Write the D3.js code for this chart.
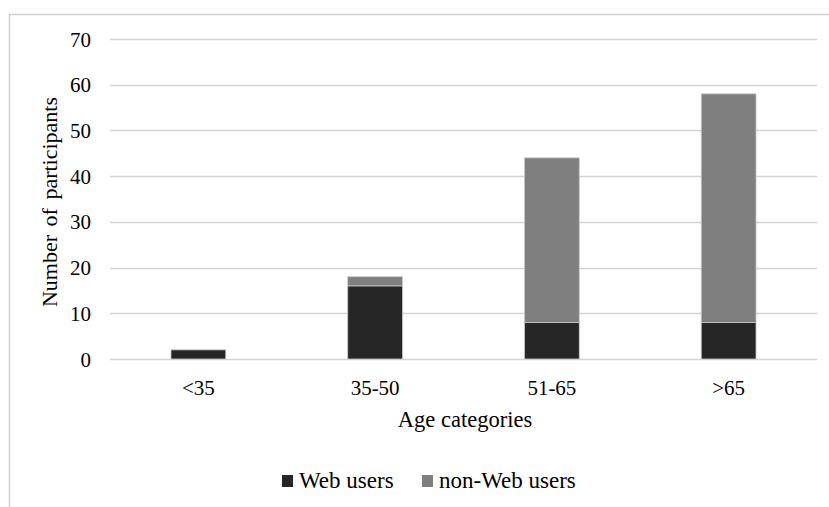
<!DOCTYPE html>
<html><head><meta charset="utf-8">
<script src="https://cdn.jsdelivr.net/npm/d3@7"></script>
<style>body{margin:0;background:#fff}svg{display:block}svg text{font-family:"Times New Roman","Liberation Serif",Tinos,serif !important}</style>
</head><body>
<svg id="c" width="829" height="507"></svg>
<script>
const categories = ["<35", "35-50", "51-65", ">65"];
const webUsers = [2, 16, 8, 8];
const nonWebUsers = [0, 2, 36, 50];
const yTicks = [0, 10, 20, 30, 40, 50, 60, 70];
const seriesNames = ["Web users", "non-Web users"];
const colors = ["#262626", "#7f7f7f"];

const svg = d3.select("#c");
svg.append("rect").attr("x", 9.5).attr("y", 14.5).attr("width", 830).attr("height", 520)
  .attr("fill", "none").attr("stroke", "#d0d0d0").attr("stroke-width", 1.5);

const x = d3.scaleBand().domain(categories).range([110, 817]).padding(0);
const y = d3.scaleLinear().domain([0, 70]).range([359, 39]);

svg.append("g").selectAll("line").data(yTicks).join("line")
  .attr("x1", 110).attr("x2", 817)
  .attr("y1", d => Math.round(y(d)) + 0.5).attr("y2", d => Math.round(y(d)) + 0.5)
  .attr("stroke", "#d4d4d4").attr("stroke-width", 1.5);

const yAxis = d3.axisLeft(y).tickValues(yTicks).tickSize(0).tickPadding(0);
const gy = svg.append("g").attr("transform", "translate(91,0)").call(yAxis);
gy.select(".domain").remove();
gy.attr("font-family", null).attr("font-size", null);
gy.selectAll("text").attr("dy", "0.34em").attr("fill", "#000").style("font-size", "21px");

const xAxis = d3.axisBottom(x).tickSize(0).tickPadding(0);
const gx = svg.append("g").attr("transform", "translate(0,380)").call(xAxis);
gx.select(".domain").remove();
gx.attr("font-family", null).attr("font-size", null);
gx.selectAll("text").attr("dy", "0.71em").attr("fill", "#000").style("font-size", "21px");

const stackData = categories.map((c, i) => ({cat: c, web: webUsers[i], non: nonWebUsers[i]}));
const stack = d3.stack().keys(["web", "non"])(stackData);
const bw = x.bandwidth() * 0.31;
svg.append("g").selectAll("g").data(stack).join("g")
  .attr("fill", (d, i) => colors[i])
  .selectAll("rect").data(d => d.filter(v => v[1] - v[0] > 0)).join("rect")
  .attr("x", d => x(d.data.cat) + x.bandwidth() / 2 - bw / 2)
  .attr("width", bw)
  .attr("y", d => y(d[1]))
  .attr("height", d => y(d[0]) - y(d[1]))
  .attr("stroke", "#c8c8c8").attr("stroke-width", 0.8);

svg.append("text").attr("x", 465).attr("y", 427).attr("text-anchor", "middle")
  .style("font-size", "22.5px").text("Age categories");
svg.append("text").attr("transform", "translate(57,202) rotate(-90)").attr("text-anchor", "middle")
  .style("font-size", "22px").style("word-spacing", "3px").text("Number of participants");

const legendX = [282, 422];
const lg = svg.append("g").selectAll("g").data(seriesNames).join("g")
  .attr("transform", (d, i) => `translate(${legendX[i]},475)`);
lg.append("rect").attr("width", 11).attr("height", 12).attr("fill", (d, i) => colors[i]);
lg.append("text").attr("x", 17).attr("y", 13)
  .style("font-size", "23px").text(d => d);
</script>
</body></html>
